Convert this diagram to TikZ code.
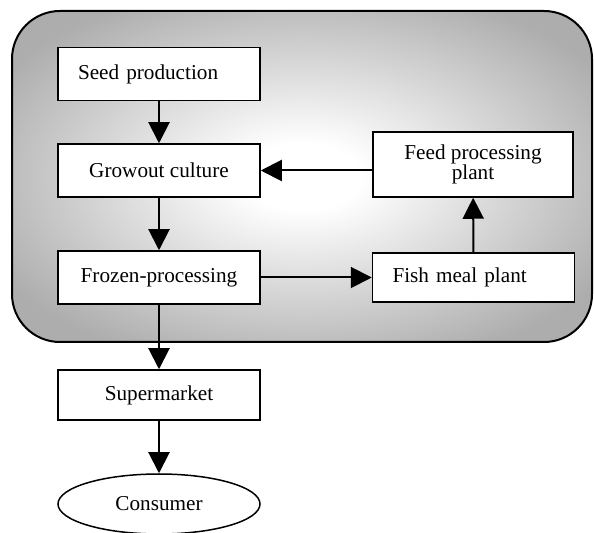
\documentclass[tikz,border=0pt]{standalone}
\usepackage{fontspec}
\setmainfont{Liberation Serif}
\usetikzlibrary{arrows.meta,shapes.geometric}
\pgfdeclareradialshading{glow}{\pgfpoint{0bp}{0bp}}{color(0bp)=(white); color(5bp)=(white); color(30bp)=(black!32); color(50bp)=(black!32)}
\tikzset{
  box/.style = {draw, line width=0.75pt, fill=white, minimum width=101pt, minimum height=26.5pt, inner sep=2pt, align=center},
  leftbox/.style = {box, text width=81pt, inner xsep=10pt, align=left},
  flow/.style = {line width=1pt, -{Triangle[length=10.5pt,width=10.5pt]}}
}
\begin{document}
\begin{tikzpicture}[x=0.5pt, y=-0.5pt, font=\fontsize{10.6}{10.4}\selectfont]
			\useasboundingbox (0,0) rectangle (594,533);
			\draw[line width=1pt, rounded corners=24pt, shading=glow] (12,11) rectangle (592,342);
			\node[leftbox] (seed) at (159,74) {Seed production};
			\node[box] (grow) at (159,170.5) {Growout culture};
			\node[box, minimum width=100pt, minimum height=32.5pt] (feed) at (473,164.5) {Feed processing\\plant};
			\node[box] (frozen) at (159,277.5) {Frozen-processing};
			\node[leftbox, minimum height=24.5pt] (fish) at (473.5,277.5) {Fish meal plant};
			\node[box, minimum height=25pt] (market) at (159,395) {Supermarket};
			\node[draw, line width=0.75pt, ellipse, fill=white, minimum width=101pt, minimum height=30pt] (consumer) at (159,504) {Consumer};
			\draw[flow] (seed) -- (grow);
			\draw[flow] (grow.east -| feed.west) -- (grow.east);
			\draw[flow] (grow) -- (frozen);
			\draw[flow] (frozen) -- (fish);
			\draw[flow] (fish) -- (feed);
			\draw[flow] (frozen) -- (market);
			\draw[flow] (market) -- (consumer);
		\end{tikzpicture}
\end{document}
